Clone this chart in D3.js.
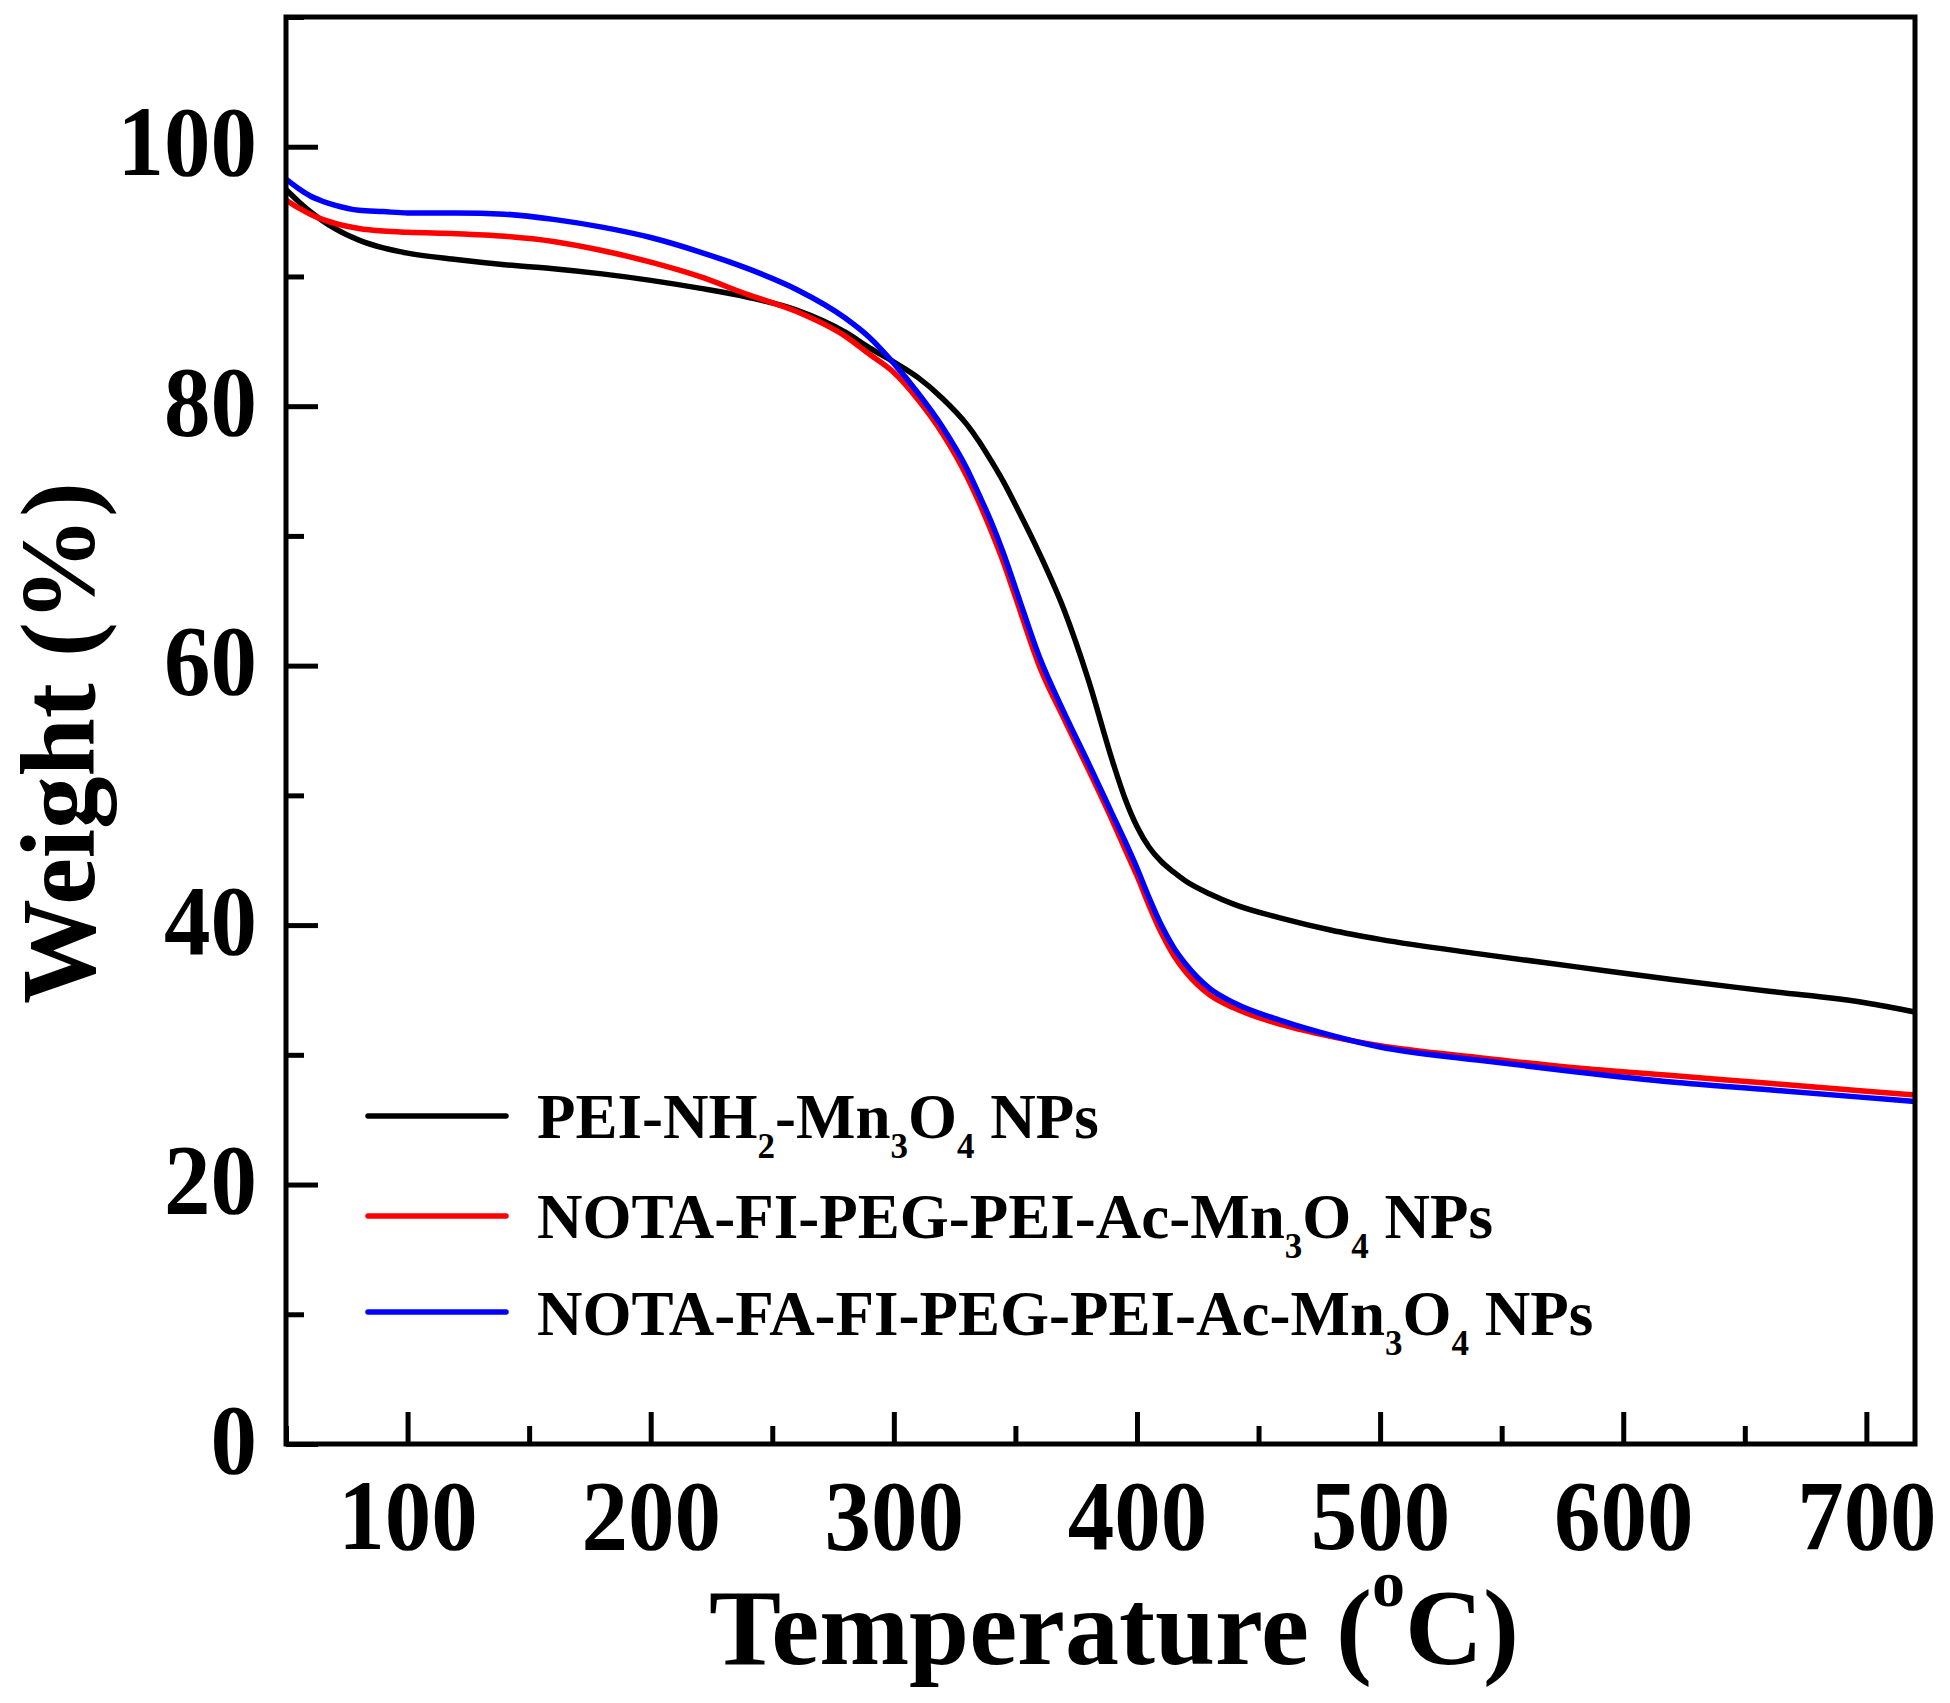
<!DOCTYPE html>
<html><head><meta charset="utf-8">
<script src="https://cdn.jsdelivr.net/npm/d3@7"></script>
<style>
body{margin:0;background:#fff}
svg{display:block}
text{font-family:"Liberation Serif","Times New Roman",serif;font-weight:bold;fill:#000}
</style>
</head><body>
<svg id="c" width="1950" height="1703"></svg>
<script>
// ---- data ----
const temperature = [50,55,60,65,70,80,90,100,120,140,160,180,200,220,240,260,280,290,300,310,320,330,335,340,345,350,360,370,380,390,395,400,405,410,415,420,430,440,460,480,500,540,580,620,660,700,720];
const peiNH2 = [96.7,95.8,95.0,94.3,93.7,92.8,92.2,91.8,91.3,90.9,90.6,90.2,89.7,89.1,88.4,87.4,85.7,84.5,83.4,82.2,80.6,78.6,77.3,75.8,74.2,72.4,68.6,64.3,58.9,52.6,49.8,47.6,46.0,44.9,44.1,43.4,42.4,41.6,40.5,39.6,38.9,37.8,36.8,35.8,34.9,34.0,33.3];
const notaFI = [95.9,95.3,94.8,94.4,94.1,93.7,93.5,93.4,93.3,93.1,92.7,92.0,91.1,90.0,88.6,87.3,85.4,84.0,82.6,80.5,77.9,74.6,72.6,70.4,68.0,65.3,59.9,55.9,52.0,48.0,45.9,43.8,41.5,39.4,37.7,36.4,34.6,33.6,32.3,31.4,30.7,29.8,29.0,28.4,27.8,27.2,26.9];
const notaFAFI = [97.5,96.8,96.2,95.8,95.5,95.1,95.0,94.9,94.9,94.8,94.4,93.8,93.0,91.9,90.6,89.0,86.8,85.3,83.3,81.0,78.4,75.2,73.2,71.1,68.7,66.0,60.6,56.4,52.5,48.5,46.5,44.4,42.1,40.0,38.3,37.0,35.1,34.0,32.6,31.5,30.6,29.6,28.7,27.9,27.3,26.7,26.4];
const seriesNames = ["PEI-NH_2-Mn_3O_4 NPs","NOTA-FI-PEG-PEI-Ac-Mn_3O_4 NPs","NOTA-FA-FI-PEG-PEI-Ac-Mn_3O_4 NPs"];
const seriesColors = ["#000000","#ff0000","#0000ff"];
const xMajorTicks = [100,200,300,400,500,600,700];
const xMinorTicks = [50,150,250,350,450,550,650];
const yMajorTicks = [0,20,40,60,80,100];
const yMinorTicks = [10,30,50,70,90,110];
const xTitle = ["Temperature (","o","C)"];
const yTitle = "Weight (%)";

const svg = d3.select("#c");
const L=286,R=1915,T=17,B=1444;
const x = d3.scaleLinear([50,720],[L,R]);
const y = d3.scaleLinear([0,110],[B,T]);

// curves
const seriesVals=[peiNH2,notaFI,notaFAFI];
const line = d3.line().x(d=>x(d[0])).y(d=>y(d[1])).curve(d3.curveMonotoneX);
svg.append("g").selectAll("path").data(seriesVals).join("path")
  .attr("d",v=>line(temperature.map((t,i)=>[t,v[i]])))
  .attr("fill","none").attr("stroke",(d,i)=>seriesColors[i])
  .attr("stroke-width",5.5).attr("stroke-linejoin","round");

// axes (ticks inward)
const TK=0.93;
const gx = svg.append("g").attr("transform",`translate(0,${B})`);
gx.call(d3.axisBottom(x).tickValues(xMajorTicks).tickSize(-32).tickFormat(d3.format("d")));
gx.append("g").call(d3.axisBottom(x).tickValues(xMinorTicks).tickSize(-18).tickFormat(""));
gx.selectAll(".domain").remove();
gx.selectAll("line").attr("stroke","#000").attr("stroke-width",5);
gx.selectAll("text").attr("y",105).attr("dy",null).attr("font-size",100)
  .attr("transform",`scale(${TK},1)`).style("font-family",'"Liberation Serif",serif').style("font-weight","bold").attr("fill","#000");

const gy = svg.append("g").attr("transform",`translate(${L},0)`);
gy.call(d3.axisLeft(y).tickValues(yMajorTicks).tickSize(-32).tickFormat(d3.format("d")));
gy.append("g").call(d3.axisLeft(y).tickValues(yMinorTicks).tickSize(-18).tickFormat(""));
gy.selectAll(".domain").remove();
gy.selectAll("line").attr("stroke","#000").attr("stroke-width",5);
gy.selectAll("text").attr("x",-29/TK).attr("dy",null).attr("y",28).attr("font-size",100)
  .attr("transform",`scale(${TK},1)`).style("font-family",'"Liberation Serif",serif').style("font-weight","bold").attr("fill","#000");

// frame
svg.append("rect").attr("x",L).attr("y",T).attr("width",R-L).attr("height",B-T)
  .attr("fill","none").attr("stroke","#000").attr("stroke-width",5);

// titles
const xt = svg.append("text").attr("x",1114).attr("y",1664).attr("text-anchor","middle").attr("font-size",108);
xt.append("tspan").text(xTitle[0]);
xt.append("tspan").attr("font-size",66).attr("dy",-58).text(xTitle[1]);
xt.append("tspan").attr("dy",58).text(xTitle[2]);

svg.append("text").attr("transform","translate(94,743) rotate(-90)")
  .attr("text-anchor","middle").attr("font-size",105).text(yTitle);

// legend
const lg = svg.append("g");
const rowY=[1116,1216,1312], baseY=[1138,1238,1335];
seriesNames.forEach((name,i)=>{
  lg.append("line").attr("x1",368).attr("x2",506).attr("y1",rowY[i]).attr("y2",rowY[i])
    .attr("stroke",seriesColors[i]).attr("stroke-width",5.5).attr("stroke-linecap","round");
  const t = lg.append("text").attr("x",537).attr("y",baseY[i]).attr("font-size",63);
  const parts = name.split("_");
  parts.forEach((p,j)=>{
    if(j===0){ t.append("tspan").text(p); return; }
    t.append("tspan").attr("font-size",35).attr("dy",20).text(p[0]);
    t.append("tspan").attr("dy",-20).text(p.slice(1));
  });
});
</script>
</body></html>
